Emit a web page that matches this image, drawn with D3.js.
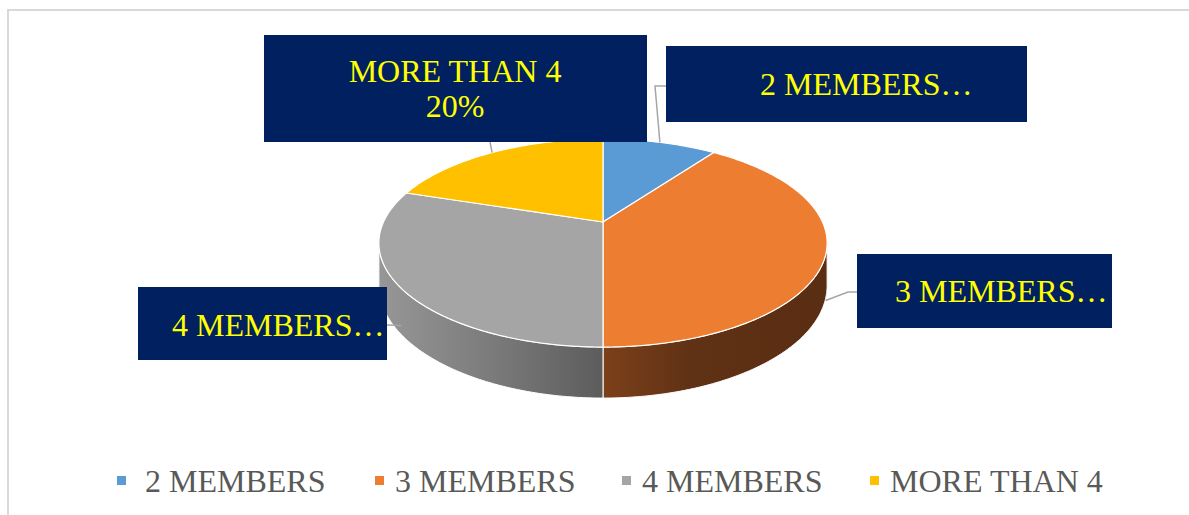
<!DOCTYPE html>
<html>
<head>
<meta charset="utf-8">
<script src="https://cdn.jsdelivr.net/npm/d3@7"></script>
<style>
  body { margin: 0; background: #fff; }
  svg { display: block; }
  text { font-family: "Times New Roman", "Liberation Serif", serif; }
</style>
</head>
<body>
<div id="chart"></div>
<script>
// data
const categories = ["2 MEMBERS", "3 MEMBERS", "4 MEMBERS", "MORE THAN 4"];
const values = [10, 40, 30, 20];
const colors = ["#5b9bd5", "#ed7d31", "#a5a5a5", "#ffc000"];

const width = 1189, height = 515;

const svg = d3.select("#chart").append("svg")
    .attr("width", width)
    .attr("height", height);

// outer frame
svg.append("rect")
    .attr("x", 8).attr("y", 10)
    .attr("width", width).attr("height", height)
    .attr("fill", "none")
    .attr("stroke", "#d9d9d9")
    .attr("stroke-width", 2);

// 3d pie projection (perspective tilt)
const cx = 603, cy = 222, A = 219.5, B = 99.8, K = 0.202, H = 40.7;
function proj(t, d) {
    const u = Math.sin(t), v = Math.cos(t), w = 1 + K * v;
    return [cx + A * u / w, cy - B * v / w + d * H / w];
}
function arcPts(a0, a1, d) {
    const n = Math.max(2, Math.ceil((a1 - a0) / 0.01));
    return d3.range(n + 1).map(i => proj(a0 + (a1 - a0) * i / n, d));
}

const color = d3.scaleOrdinal().domain(categories).range(colors);
const pie = d3.pie().sort(null).value(i => values[i]);
const arcs = pie(d3.range(values.length));

// gradients for side walls
const defs = svg.append("defs");
function grad(id, x1, x2, stops) {
    const g = defs.append("linearGradient").attr("id", id)
        .attr("gradientUnits", "userSpaceOnUse")
        .attr("x1", x1).attr("x2", x2).attr("y1", 0).attr("y2", 0);
    stops.forEach(s => g.append("stop").attr("offset", s[0]).attr("stop-color", s[1]));
}
grad("side1", 603, 830, [[0, "#7c4019"], [0.4, "#5f3115"], [1, "#5a2e13"]]);
grad("side2", 379, 603, [[0, "#979797"], [0.5, "#7b7b7b"], [1, "#5c5c5c"]]);
const sideFill = ["#2f5f8a", "url(#side1)", "url(#side2)", "#a07800"];

// visible part of the outer wall
const tL = Math.acos(-K), tR = 2 * Math.PI - tL;
const line = d3.line();

arcs.forEach(a => {
    const s = Math.max(a.startAngle, tL), e = Math.min(a.endAngle, tR);
    if (e <= s) return;
    const pts = arcPts(s, e, 0).concat(arcPts(s, e, 1).reverse());
    svg.append("path")
        .attr("d", line(pts) + "Z")
        .attr("fill", sideFill[a.index])
        .attr("stroke", "#fff")
        .attr("stroke-width", 1);
});

// top faces
arcs.forEach(a => {
    const pts = [proj(0, 0).map((v, i) => i ? cy : cx)].concat(arcPts(a.startAngle, a.endAngle, 0));
    svg.append("path")
        .attr("d", line(pts) + "Z")
        .attr("fill", color(categories[a.index]))
        .attr("stroke", "#fff")
        .attr("stroke-width", 1.2)
        .attr("stroke-linejoin", "round");
});

// data labels
const total = d3.sum(values);
const labelBoxes = [
    { x: 666, y: 46, w: 361, h: 76, tx: 760, ty: [95], anchor: "start", depth: 0, elbow: [[655, 86], [666, 86]] },
    { x: 857, y: 254, w: 255, h: 74, tx: 895, ty: [302], anchor: "start", depth: 1.05, elbow: [[848, 292], [857, 292]] },
    { x: 138, y: 287, w: 249, h: 73, tx: 172, ty: [336], anchor: "start", depth: 0.8, elbow: [[387, 325]] },
    { x: 264, y: 35, w: 383, h: 107, tx: 455, ty: [82, 117], anchor: "middle", depth: 0, elbow: [[490, 142]] }
];
const labelText = [
    [categories[0] + "…"],
    [categories[1] + "…"],
    [categories[2] + "…"],
    [categories[3], d3.format(".0%")(values[3] / total)]
];

arcs.forEach(a => {
    const b = labelBoxes[a.index];
    const mid = (a.startAngle + a.endAngle) / 2;
    const pts = [proj(mid, b.depth)].concat(b.elbow);
    svg.append("path")
        .attr("d", line(pts))
        .attr("fill", "none")
        .attr("stroke", "#a6a6a6")
        .attr("stroke-width", 1.5);
});

labelBoxes.forEach((b, i) => {
    svg.append("rect")
        .attr("x", b.x).attr("y", b.y)
        .attr("width", b.w).attr("height", b.h)
        .attr("fill", "#002060");
    labelText[i].forEach((t, j) => {
        svg.append("text")
            .attr("x", b.tx).attr("y", b.ty[j])
            .attr("text-anchor", b.anchor)
            .attr("fill", "#ffff00")
            .style("font-size", "32px")
            .text(t);
    });
});

// legend
const legendX = [117, 375, 622, 870];
const legend = svg.append("g");
categories.forEach((c, i) => {
    legend.append("rect")
        .attr("x", legendX[i]).attr("y", 476)
        .attr("width", 9).attr("height", 9)
        .attr("fill", color(c));
    legend.append("text")
        .attr("x", legendX[i] + (i === 0 ? 28 : 20)).attr("y", 492)
        .attr("fill", "#595959")
        .style("font-size", "32px")
        .text(c);
});
</script>
</body>
</html>
